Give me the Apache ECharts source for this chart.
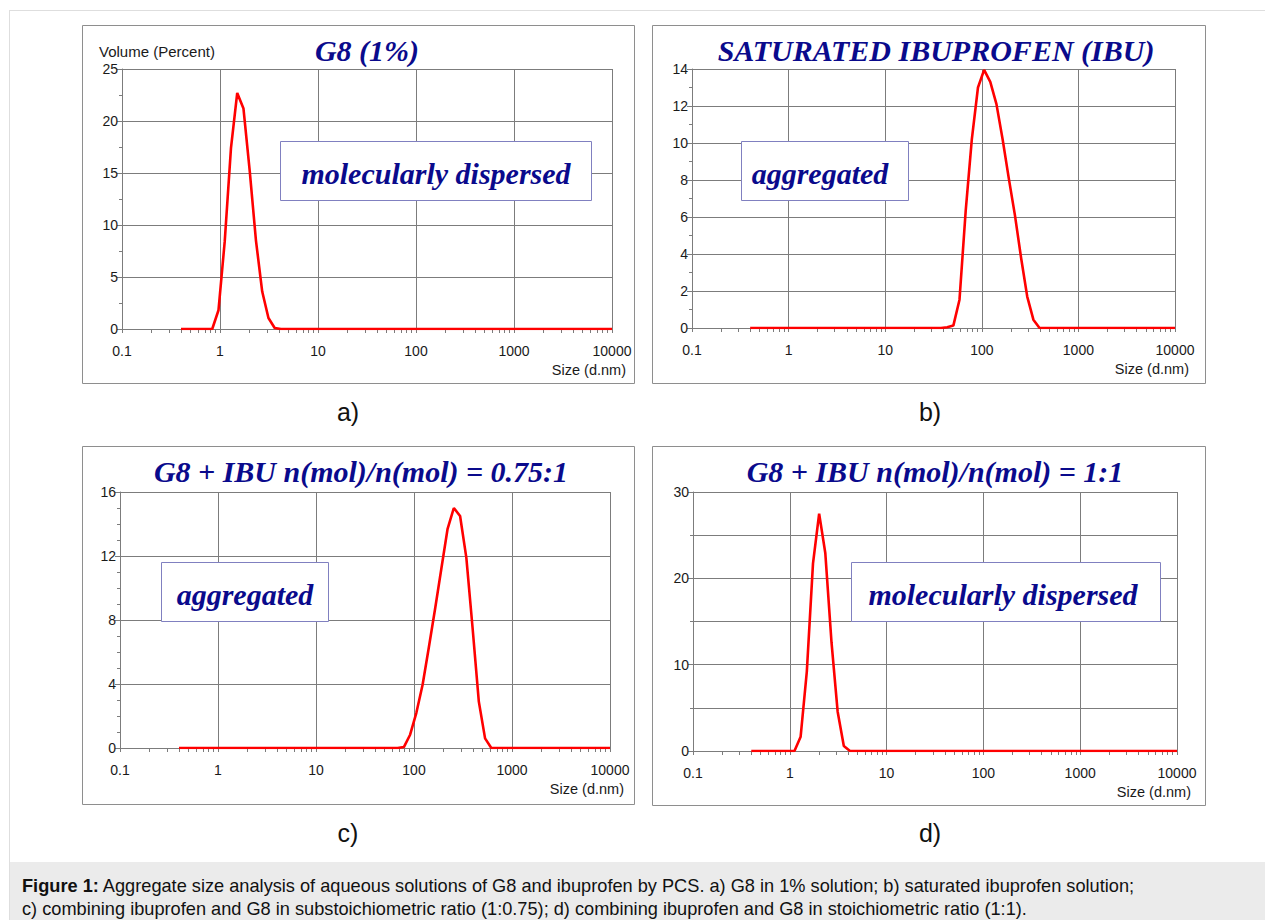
<!DOCTYPE html>
<html>
<head>
<meta charset="utf-8">
<script src="https://cdn.jsdelivr.net/npm/echarts@6/dist/echarts.min.js"></script>
<style>
html,body{margin:0;padding:0;background:#fff;}
#wrap{position:relative;width:1265px;height:920px;overflow:hidden;background:#fff;}
#frame{position:absolute;left:9px;top:10px;width:1400px;height:1000px;border-left:1px solid #dedede;border-top:1px solid #dedede;}
#chart{position:absolute;left:0;top:0;width:1265px;height:920px;}
#caption{position:absolute;left:10px;top:862px;width:1255px;height:58px;background:#ebebeb;font:18.2px "Liberation Sans",Arial,sans-serif;color:#111;line-height:23px;padding:13px 0 0 12px;box-sizing:border-box;white-space:nowrap;}
</style>
</head>
<body>
<div id="wrap">
  <div id="frame"></div>
  <div id="chart"></div>
  <div id="caption"><b>Figure 1:</b> Aggregate size analysis of aqueous solutions of G8 and ibuprofen by PCS. a) G8 in 1% solution; b) saturated ibuprofen solution;<br>c) combining ibuprofen and G8 in substoichiometric ratio (1:0.75); d) combining ibuprofen and G8 in stoichiometric ratio (1:1).</div>
</div>
<script>
// ---- DATA ----
// particle size bins (d.nm)
const sizes = [
  0.4, 0.4632, 0.5365, 0.6213, 0.7195, 0.8332, 0.9649, 1.117, 1.294, 1.499,
  1.736, 2.010, 2.328, 2.696, 3.122, 3.615, 4.187, 4.849, 5.615, 6.503,
  7.531, 8.721, 10.10, 11.70, 13.54, 15.69, 18.17, 21.04, 24.36, 28.21,
  32.67, 37.84, 43.82, 50.75, 58.77, 68.06, 78.82, 91.28, 105.7, 122.4,
  141.8, 164.2, 190.1, 220.2, 255.0, 295.3, 342.0, 396.1, 458.7, 531.2,
  615.1, 712.4, 825.0, 955.4, 1106, 1281, 1484, 1718, 1990, 2305,
  2669, 3091, 3580, 4145, 4801, 5560, 6439, 7456, 8635, 10000
];
// a) G8 (1%) — volume percent
const g8Volume = [
  0, 0, 0, 0, 0, 0, 1.8, 8.4, 17.4, 22.7,
  21.2, 15.2, 8.5, 3.6, 1.06, 0.1, 0, 0, 0, 0,
  0, 0, 0, 0, 0, 0, 0, 0, 0, 0,
  0, 0, 0, 0, 0, 0, 0, 0, 0, 0,
  0, 0, 0, 0, 0, 0, 0, 0, 0, 0,
  0, 0, 0, 0, 0, 0, 0, 0, 0, 0,
  0, 0, 0, 0, 0, 0, 0, 0, 0, 0
];
// b) saturated ibuprofen
const ibuVolume = [
  0, 0, 0, 0, 0, 0, 0, 0, 0, 0,
  0, 0, 0, 0, 0, 0, 0, 0, 0, 0,
  0, 0, 0, 0, 0, 0, 0, 0, 0, 0,
  0, 0, 0.04, 0.13, 1.53, 6.3, 10.2, 13.0, 13.95, 13.3,
  12.1, 10.2, 8.1, 6.1, 3.8, 1.7, 0.45, 0, 0, 0,
  0, 0, 0, 0, 0, 0, 0, 0, 0, 0,
  0, 0, 0, 0, 0, 0, 0, 0, 0, 0
];
// c) G8 + IBU 0.75:1
const mix075Volume = [
  0, 0, 0, 0, 0, 0, 0, 0, 0, 0,
  0, 0, 0, 0, 0, 0, 0, 0, 0, 0,
  0, 0, 0, 0, 0, 0, 0, 0, 0, 0,
  0, 0, 0, 0, 0, 0, 0.06, 0.83, 2.2, 3.95,
  6.3, 8.7, 11.2, 13.7, 15.0, 14.5, 11.9, 7.5, 2.9, 0.6,
  0, 0, 0, 0, 0, 0, 0, 0, 0, 0,
  0, 0, 0, 0, 0, 0, 0, 0, 0, 0
];
// d) G8 + IBU 1:1
const mix1Volume = [
  0, 0, 0, 0, 0, 0, 0, 0, 1.66, 9.2,
  21.7, 27.5, 22.9, 12.6, 4.55, 0.58, 0, 0, 0, 0,
  0, 0, 0, 0, 0, 0, 0, 0, 0, 0,
  0, 0, 0, 0, 0, 0, 0, 0, 0, 0,
  0, 0, 0, 0, 0, 0, 0, 0, 0, 0,
  0, 0, 0, 0, 0, 0, 0, 0, 0, 0,
  0, 0, 0, 0, 0, 0, 0, 0, 0, 0
];
const panelTitles = ['G8 (1%)', 'SATURATED IBUPROFEN (IBU)', 'G8 + IBU n(mol)/n(mol) = 0.75:1', 'G8 + IBU n(mol)/n(mol) = 1:1'];
const panelNotes = ['molecularly dispersed', 'aggregated', 'aggregated', 'molecularly dispersed'];
const panelLetters = ['a)', 'b)', 'c)', 'd)'];
const yMaxes = [25, 14, 16, 30];
const yIntervals = [5, 2, 4, 10];
const yMinorSplits = [2, 2, 4, 2];
const xMin = 0.1, xMax = 10000;
const xMinorTickValues = [
  0.2, 0.3, 0.4, 0.5, 0.6, 0.7, 0.8, 0.9,
  2, 3, 4, 5, 6, 7, 8, 9,
  20, 30, 40, 50, 60, 70, 80, 90,
  200, 300, 400, 500, 600, 700, 800, 900,
  2000, 3000, 4000, 5000, 6000, 7000, 8000, 9000
];
const yAxisTitle = 'Volume (Percent)';
const xAxisTitle = 'Size (d.nm)';
const seriesValues = [g8Volume, ibuVolume, mix075Volume, mix1Volume];

// ---- LAYOUT ----
const layout = [
  {grid:{left:122, top:69, width:490, height:260}, frame:[82.5,25.5,552,358], title:[367,50], note:[280.5,141.5,311,59], noteX:436, letter:[348,412]},
  {grid:{left:692, top:69, width:483, height:259}, frame:[652.5,25.5,553,358], title:[936,50], note:[741.5,141.5,167,59], noteX:820, letter:[930,412]},
  {grid:{left:120, top:492, width:490, height:256}, frame:[82.5,446.5,552,358], title:[361,471], note:[161.5,562.5,167,59], noteX:245, letter:[348,833]},
  {grid:{left:693, top:492, width:484, height:259}, frame:[652.5,446.5,553,359], title:[935,471], note:[851.5,562.5,309,59], noteX:1003, letter:[930,833]}
];

const NAVY = '#0a0a8c';
const GRIDC = '#7c7c7c';
const SANS = '"Liberation Sans", Arial, sans-serif';
const SERIF = '"Liberation Serif", "Times New Roman", serif';

const grids = [], xAxes = [], yAxes = [], series = [], graphics = [];
layout.forEach((L, i) => {
  grids.push(Object.assign({containLabel:false}, L.grid));
  // main log axis
  xAxes.push({
    type:'log', logBase:10, gridIndex:i, min:xMin, max:xMax, interval:1, position:'bottom',
    axisLine:{show:true, onZero:false, lineStyle:{color:GRIDC, width:1}},
    axisTick:{show:true, length:4, lineStyle:{color:GRIDC}},
    axisLabel:{color:'#1a1a1a', fontFamily:SANS, fontSize:14, margin:15,
      formatter: v => String(+(+v).toPrecision(6))},
    splitLine:{show:true, lineStyle:{color:GRIDC, width:1}},
    name: xAxisTitle, nameLocation:'end', nameGap:14,
    nameTextStyle:{color:'#1a1a1a', fontFamily:SANS, fontSize:14.5, align:'right', verticalAlign:'top', padding:[33,0,0,0]}
  });
  // helper axis for decade minor ticks (linear in log10 space)
  xAxes.push({
    type:'value', gridIndex:i, min:Math.log10(xMin), max:Math.log10(xMax), position:'bottom',
    axisLine:{show:true, onZero:false, lineStyle:{color:GRIDC, width:0.01, opacity:0}},
    splitLine:{show:false},
    axisLabel:{show:true, color:'rgba(0,0,0,0)', fontSize:1, formatter:() => ''},
    axisTick:{show:true, length:4, inside:false, customValues:xMinorTickValues.map(Math.log10), lineStyle:{color:GRIDC, width:1}}
  });
  yAxes.push({
    type:'value', gridIndex:i, min:0, max:yMaxes[i], interval:yIntervals[i],
    axisLine:{show:true, onZero:false, lineStyle:{color:GRIDC}},
    axisTick:{show:true, length:5, lineStyle:{color:GRIDC}},
    minorTick:{show:true, splitNumber:yMinorSplits[i], length:3, lineStyle:{color:GRIDC}},
    minorSplitLine:{show: i === 3, lineStyle:{color:GRIDC, width:1}},
    axisLabel:{color:'#1a1a1a', fontFamily:SANS, fontSize:14, margin:4},
    splitLine:{show:true, lineStyle:{color:GRIDC, width:1}}
  });
  series.push({
    type:'line', xAxisIndex:i*2, yAxisIndex:i, showSymbol:false, symbol:'none',
    data: sizes.map((s, k) => [s, seriesValues[i][k]]),
    lineStyle:{color:'#ff0000', width:2.6}, itemStyle:{color:'#ff0000'}, z:5, animation:false
  });
  // frame
  graphics.push({type:'rect', shape:{x:L.frame[0], y:L.frame[1], width:L.frame[2], height:L.frame[3]},
    style:{fill:'none', stroke:'#8e8e8e', lineWidth:1}, z:1, silent:true});
  // title
  graphics.push({type:'text', x:L.title[0], y:L.title[1], z:10,
    style:{text:panelTitles[i], font:'italic bold 30px ' + SERIF, fill:NAVY, align:'center', verticalAlign:'middle'}});
  // note box
  graphics.push({type:'rect', shape:{x:L.note[0], y:L.note[1], width:L.note[2], height:L.note[3]},
    style:{fill:'#ffffff', stroke:'#8080c0', lineWidth:1}, z:10});
  graphics.push({type:'text', x:L.noteX, y:L.note[1] + L.note[3]/2 + 2, z:11,
    style:{text:panelNotes[i], font:'italic bold 30px ' + SERIF, fill:NAVY, align:'center', verticalAlign:'middle'}});
  // letter
  graphics.push({type:'text', x:L.letter[0], y:L.letter[1], z:10,
    style:{text:panelLetters[i], font:'25px ' + SANS, fill:'#111', align:'center', verticalAlign:'middle'}});
});
graphics.push({type:'text', x:99, y:51, z:10,
  style:{text:yAxisTitle, font:'15px ' + SANS, fill:'#1a1a1a', align:'left', verticalAlign:'middle'}});

const chart = echarts.init(document.getElementById('chart'), null, {renderer:'svg'});
chart.setOption({
  animation:false,
  backgroundColor:'transparent',
  grid:grids, xAxis:xAxes, yAxis:yAxes, series:series, graphic:graphics
});
</script>
</body>
</html>
